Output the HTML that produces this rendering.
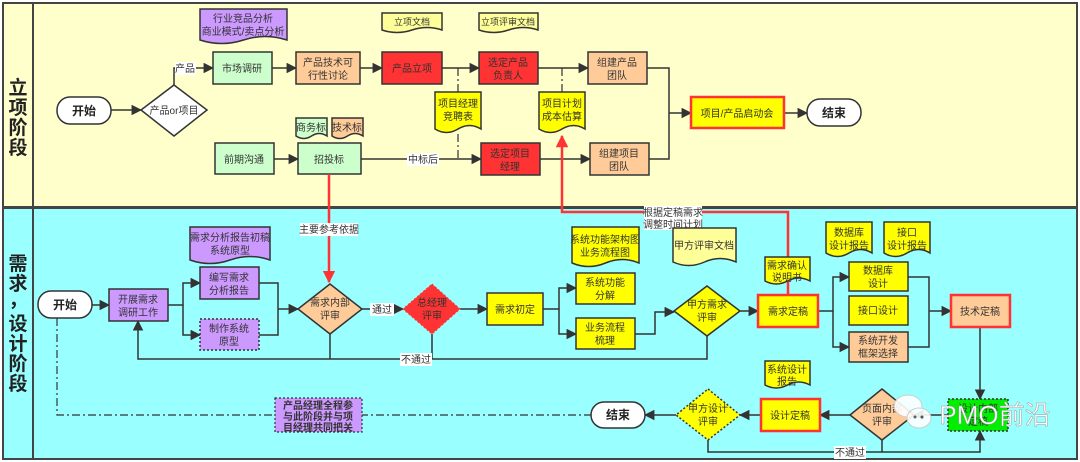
<!DOCTYPE html>
<html><head><meta charset="utf-8"><style>
html,body{margin:0;padding:0;background:#fff;}
svg{display:block;}
text{font-family:"Liberation Sans","Noto Sans CJK SC",sans-serif;font-size:10px;fill:#333;text-anchor:middle;}
.b{stroke:#333;stroke-width:1.5;}
.l{stroke:#333;stroke-width:1.5;fill:none;}
.r{stroke:#ff3333;stroke-width:2.5;fill:none;}
.dd{stroke:#333;stroke-width:1.2;fill:none;stroke-dasharray:8,3,2,3;}
</style></head><body>
<svg width="1080" height="462" viewBox="0 0 1080 462" xmlns="http://www.w3.org/2000/svg">
<defs>
<marker id="a" viewBox="0 0 10 10" refX="9" refY="5" markerWidth="7" markerHeight="7" orient="auto"><path d="M0,0 L10,5 L0,10 z" fill="#333"/></marker>
<marker id="ar" viewBox="0 0 10 10" refX="9" refY="5" markerWidth="5" markerHeight="5" orient="auto"><path d="M0,0 L10,5 L0,10 z" fill="#ff3333"/></marker>
</defs>
<rect x="0" y="0" width="1080" height="462" fill="#fff"/>
<!-- lanes -->
<rect x="3" y="3" width="1074" height="204" fill="#ffffcc" stroke="#444" stroke-width="2"/>
<rect x="3" y="208" width="1074" height="251" fill="#99ffff" stroke="#444" stroke-width="2"/>
<line x1="33" y1="3" x2="33" y2="459" stroke="#444" stroke-width="2"/>
<g style="font-size:19px;font-weight:bold">
<text x="18" y="94" style="font-size:19px;font-weight:bold;fill:#222">立</text>
<text x="18" y="114" style="font-size:19px;font-weight:bold;fill:#222">项</text>
<text x="18" y="134" style="font-size:19px;font-weight:bold;fill:#222">阶</text>
<text x="18" y="154" style="font-size:19px;font-weight:bold;fill:#222">段</text>
<text x="18" y="270" style="font-size:19px;font-weight:bold;fill:#222">需</text>
<text x="18" y="290" style="font-size:19px;font-weight:bold;fill:#222">求</text>
<text x="18" y="306" style="font-size:19px;font-weight:bold;fill:#222">，</text>
<text x="18" y="330" style="font-size:19px;font-weight:bold;fill:#222">设</text>
<text x="18" y="350" style="font-size:19px;font-weight:bold;fill:#222">计</text>
<text x="18" y="370" style="font-size:19px;font-weight:bold;fill:#222">阶</text>
<text x="18" y="390" style="font-size:19px;font-weight:bold;fill:#222">段</text>
</g>

<!-- TOP connectors -->
<line class="l" x1="111" y1="110" x2="141" y2="110" marker-end="url(#a)"/>
<path class="l" d="M174,85 V68 H213" marker-end="url(#a)"/>
<rect x="175" y="62" width="21" height="13" fill="#fff"/><text x="185" y="72">产品</text>
<line class="l" x1="272" y1="68" x2="296" y2="68" marker-end="url(#a)"/>
<line class="l" x1="360" y1="68" x2="382" y2="68" marker-end="url(#a)"/>
<line class="l" x1="442" y1="68" x2="479" y2="68" marker-end="url(#a)"/>
<line class="l" x1="538" y1="68" x2="588" y2="68" marker-end="url(#a)"/>
<path class="dd" d="M458,68 V92 M458,134 V158"/>
<path class="dd" d="M562,68 V92"/>
<path class="l" d="M647,68 H669 V113 M649,159 H669 V113 H691" marker-end="url(#a)"/>
<line class="l" x1="784" y1="113" x2="807" y2="113" marker-end="url(#a)"/>
<line class="l" x1="274" y1="159" x2="298" y2="159" marker-end="url(#a)"/>
<line class="l" x1="361" y1="159" x2="481" y2="159" marker-end="url(#a)"/>
<rect x="407" y="153" width="32" height="13" fill="#fff"/><text x="423" y="163">中标后</text>
<line class="l" x1="540" y1="159" x2="590" y2="159" marker-end="url(#a)"/>

<!-- TOP nodes -->
<rect x="57" y="97" width="54" height="27" rx="13" fill="#fff" class="b"/><text x="84" y="115" style="font-size:12px;font-weight:bold;fill:#222">开始</text>
<polygon points="174,85 207,110 174,136 141,110" fill="#fff" class="b"/><text x="174" y="114">产品or项目</text>
<rect x="213" y="52" width="59" height="32" fill="#ccffcc" class="b"/><text x="242" y="72">市场调研</text>
<rect x="296" y="52" width="64" height="32" fill="#ffcc99" class="b"/><text x="328" y="66">产品技术可</text><text x="328" y="79">行性讨论</text>
<rect x="382" y="52" width="60" height="32" fill="#ff3333" class="b"/><text x="412" y="72">产品立项</text>
<rect x="479" y="52" width="59" height="32" fill="#ff3333" class="b"/><text x="508" y="66">选定产品</text><text x="508" y="79">负责人</text>
<rect x="588" y="52" width="59" height="32" fill="#ffcc99" class="b"/><text x="617" y="66">组建产品</text><text x="617" y="79">团队</text>
<rect x="691" y="97" width="93" height="31" fill="#ffff00" stroke="#ff3333" stroke-width="2.5"/><text x="737" y="117">项目/产品启动会</text>
<rect x="807" y="99" width="54" height="27" rx="13" fill="#fff" class="b"/><text x="834" y="117" style="font-size:12px;font-weight:bold;fill:#222">结束</text>
<rect x="215" y="143" width="59" height="31" fill="#ccffcc" class="b"/><text x="244" y="163">前期沟通</text>
<rect x="298" y="143" width="63" height="31" fill="#ccffcc" class="b"/><text x="329" y="163">招投标</text>
<rect x="481" y="143" width="59" height="32" fill="#ff3333" class="b"/><text x="510" y="157">选定项目</text><text x="510" y="170">经理</text>
<rect x="590" y="143" width="59" height="32" fill="#ffcc99" class="b"/><text x="619" y="157">组建项目</text><text x="619" y="170">团队</text>

<!-- TOP docs -->
<path d="M200,9 h87 v31 q-21.75,-7 -43.5,0 t-43.5,0 z" fill="#cc99ff" class="b"/><text x="243" y="22">行业竞品分析</text><text x="243" y="35">商业模式/卖点分析</text>
<path d="M382,13 h60 v17 q-15,-5 -30,0 t-30,0 z" fill="#ffff99" class="b"/><text x="412" y="25" style="font-size:9px">立项文档</text>
<path d="M479,13 h59 v17 q-14.75,-5 -29.5,0 t-29.5,0 z" fill="#ffff99" class="b"/><text x="508" y="25" style="font-size:9px">立项评审文档</text>
<path d="M435,92 h46 v37 q-11.5,-7 -23,0 t-23,0 z" fill="#ffff00" class="b"/><text x="458" y="107">项目经理</text><text x="458" y="120">竞聘表</text>
<path d="M539,92 h46 v37 q-11.5,-7 -23,0 t-23,0 z" fill="#ffff00" class="b"/><text x="562" y="107">项目计划</text><text x="562" y="120">成本估算</text>
<path d="M296,118 h31 v18 q-7.75,-5 -15.5,0 t-15.5,0 z" fill="#ccffcc" class="b"/><text x="311" y="131">商务标</text>
<path d="M332,118 h31 v18 q-7.75,-5 -15.5,0 t-15.5,0 z" fill="#ffcc99" class="b"/><text x="347" y="131">技术标</text>

<!-- red lines -->
<path class="r" d="M329,174 V282" marker-end="url(#ar)"/>
<rect x="300" y="223" width="58" height="13" fill="#fff"/><text x="329" y="233">主要参考依据</text>
<path class="r" d="M788,295 V212 H562 V136" marker-end="url(#ar)"/>
<rect x="644" y="206" width="58" height="24" fill="#fff"/><text x="673" y="216">根据定稿需求</text><text x="673" y="228">调整时间计划</text>

<!-- BOTTOM connectors -->
<line class="l" x1="92" y1="305" x2="109" y2="305" marker-end="url(#a)"/>
<path class="l" d="M168,305 H183 V283 H200" marker-end="url(#a)"/>
<path class="l" d="M183,305 V335 H200" marker-end="url(#a)"/>
<path class="l" d="M259,283 H278 V309 M259,335 H278 V309 H298" marker-end="url(#a)"/>
<line class="l" x1="362" y1="309" x2="403" y2="309" marker-end="url(#a)"/>
<rect x="370" y="303" width="24" height="13" fill="#fff"/><text x="382" y="313">通过</text>
<line class="l" x1="460" y1="309" x2="487" y2="309" marker-end="url(#a)"/>
<path class="l" d="M543,309 H559 V288 H576" marker-end="url(#a)"/>
<path class="l" d="M559,309 V334 H576" marker-end="url(#a)"/>
<path class="l" d="M635,334 H655 V312 H674" marker-end="url(#a)"/>
<line class="l" x1="740" y1="311" x2="758" y2="311" marker-end="url(#a)"/>
<path class="l" d="M818,311 H833 V277 H849" marker-end="url(#a)"/>
<path class="l" d="M833,311 V347 H849" marker-end="url(#a)"/>
<path class="l" d="M908,277 H929 V311 M908,347 H929 V311 H951" marker-end="url(#a)"/>
<line class="l" x1="980" y1="327" x2="980" y2="399" marker-end="url(#a)"/>
<line class="l" x1="948" y1="415" x2="914" y2="415" marker-end="url(#a)"/>
<line class="l" x1="850" y1="415" x2="820" y2="415" marker-end="url(#a)"/>
<line class="l" x1="761" y1="415" x2="740" y2="415" marker-end="url(#a)"/>
<line class="l" x1="676" y1="415" x2="645" y2="415" marker-end="url(#a)"/>
<path class="l" d="M330,334 V359 M432,334 V359 M707,336 V359 H138 V321" marker-end="url(#a)"/>
<rect x="400" y="353" width="32" height="13" fill="#fff"/><text x="416" y="363">不通过</text>
<path class="l" d="M882,440 V452 M708,440 V452 H980 V431" marker-end="url(#a)"/>
<rect x="834" y="446" width="32" height="13" fill="#fff"/><text x="850" y="456">不通过</text>
<path class="dd" d="M57,318 V415 H591"/>

<!-- BOTTOM nodes -->
<rect x="38" y="291" width="54" height="27" rx="13" fill="#fff" class="b"/><text x="65" y="309" style="font-size:12px;font-weight:bold;fill:#222">开始</text>
<rect x="109" y="289" width="59" height="32" fill="#cc99ff" class="b"/><text x="138" y="303">开展需求</text><text x="138" y="316">调研工作</text>
<rect x="200" y="267" width="59" height="32" fill="#cc99ff" class="b"/><text x="229" y="281">编写需求</text><text x="229" y="294">分析报告</text>
<rect x="200" y="319" width="59" height="31" fill="#cc99ff" stroke="#333" stroke-width="1.5" stroke-dasharray="2,2"/><text x="229" y="332">制作系统</text><text x="229" y="345">原型</text>
<polygon points="330,284 362,309 330,334 298,309" fill="#ffcc99" class="b"/><text x="330" y="306">需求内部</text><text x="330" y="319">评审</text>
<polygon points="432,284 460,309 432,334 403,309" fill="#ff3333" stroke="#ff3333" stroke-dasharray="2,2"/><text x="432" y="306">总经理</text><text x="432" y="319">评审</text>
<rect x="487" y="293" width="56" height="32" fill="#ffff00" class="b"/><text x="515" y="313">需求初定</text>
<rect x="576" y="273" width="59" height="31" fill="#ffff00" class="b"/><text x="605" y="286">系统功能</text><text x="605" y="299">分解</text>
<rect x="576" y="318" width="59" height="31" fill="#ffff00" class="b"/><text x="605" y="331">业务流程</text><text x="605" y="344">梳理</text>
<polygon points="707,286 740,311 707,336 674,311" fill="#ffff00" class="b"/><text x="707" y="308">甲方需求</text><text x="707" y="321">评审</text>
<rect x="758" y="295" width="60" height="32" fill="#ffff00" stroke="#ff3333" stroke-width="2.5"/><text x="788" y="315">需求定稿</text>
<rect x="849" y="262" width="59" height="29" fill="#ffff00" class="b"/><text x="878" y="274">数据库</text><text x="878" y="287">设计</text>
<rect x="849" y="296" width="59" height="29" fill="#ffff00" class="b"/><text x="878" y="314">接口设计</text>
<rect x="849" y="332" width="59" height="30" fill="#ffcc99" class="b"/><text x="878" y="344">系统开发</text><text x="878" y="357">框架选择</text>
<rect x="951" y="295" width="59" height="32" fill="#ffcc99" stroke="#ff3333" stroke-width="2.5"/><text x="980" y="315">技术定稿</text>
<rect x="948" y="399" width="60" height="32" fill="#00ee00" stroke="#333" stroke-width="1.5" stroke-dasharray="2,2"/><text x="978" y="412">设计内部</text><text x="978" y="425">定稿</text>
<polygon points="882,389 914,415 882,440 850,415" fill="#ffcc99" class="b"/><text x="882" y="412">页面内部</text><text x="882" y="425">评审</text>
<rect x="761" y="399" width="59" height="32" fill="#ffff00" stroke="#ff3333" stroke-width="2.5"/><text x="790" y="419">设计定稿</text>
<polygon points="708,389 740,415 708,440 676,415" fill="#ffff00" stroke="#333" stroke-width="1.5" stroke-dasharray="2,2"/><text x="708" y="412">甲方设计</text><text x="708" y="425">评审</text>
<rect x="591" y="402" width="54" height="26" rx="13" fill="#fff" class="b"/><text x="618" y="419" style="font-size:12px;font-weight:bold;fill:#222">结束</text>
<rect x="275" y="398" width="87" height="34" fill="#cc99ff" stroke="#333" stroke-width="1.2" stroke-dasharray="2,2"/>
<text x="318" y="409" style="font-weight:bold">产品经理全程参</text><text x="318" y="420" style="font-weight:bold">与此阶段并与项</text><text x="318" y="431" style="font-weight:bold">目经理共同把关</text>

<!-- BOTTOM docs -->
<path d="M190,227 h80 v33 q-20,-7 -40,0 t-40,0 z" fill="#cc99ff" class="b"/><text x="230" y="241">需求分析报告初稿</text><text x="230" y="254">系统原型</text>
<path d="M572,227 h67 v36 q-16.75,-7 -33.5,0 t-33.5,0 z" fill="#ffff00" class="b"/><text x="605" y="243">系统功能架构图</text><text x="605" y="256">业务流程图</text>
<path d="M673,228 h63 v34 q-15.75,-7 -31.5,0 t-31.5,0 z" fill="#ffff99" class="b"/><text x="704" y="249">甲方评审文档</text>
<path d="M765,257 h45 v24 q-11.25,-6 -22.5,0 t-22.5,0 z" fill="#ffff00" class="b"/><text x="787" y="269">需求确认</text><text x="787" y="281">说明书</text>
<path d="M826,222 h46 v31 q-11.5,-7 -23,0 t-23,0 z" fill="#ffff00" class="b"/><text x="849" y="236">数据库</text><text x="849" y="249">设计报告</text>
<path d="M884,222 h46 v31 q-11.5,-7 -23,0 t-23,0 z" fill="#ffff00" class="b"/><text x="907" y="236">接口</text><text x="907" y="249">设计报告</text>
<path d="M765,361 h45 v24 q-11.25,-6 -22.5,0 t-22.5,0 z" fill="#ffff00" class="b"/><text x="787" y="373">系统设计</text><text x="787" y="385">报告</text>

<!-- watermark -->
<g opacity="0.9">
<ellipse cx="908" cy="406" rx="14" ry="11" fill="#fff" stroke="#ccc"/>
<ellipse cx="919" cy="418" rx="12" ry="10" fill="#fff" stroke="#ccc"/>
<circle cx="915" cy="417" r="1.5" fill="#555"/><circle cx="922" cy="417" r="1.5" fill="#555"/>
</g>
<text x="995" y="424" style="font-size:26px;fill:#fff;stroke:#999;stroke-width:0.5">PMO前沿</text>
</svg>
</body></html>
